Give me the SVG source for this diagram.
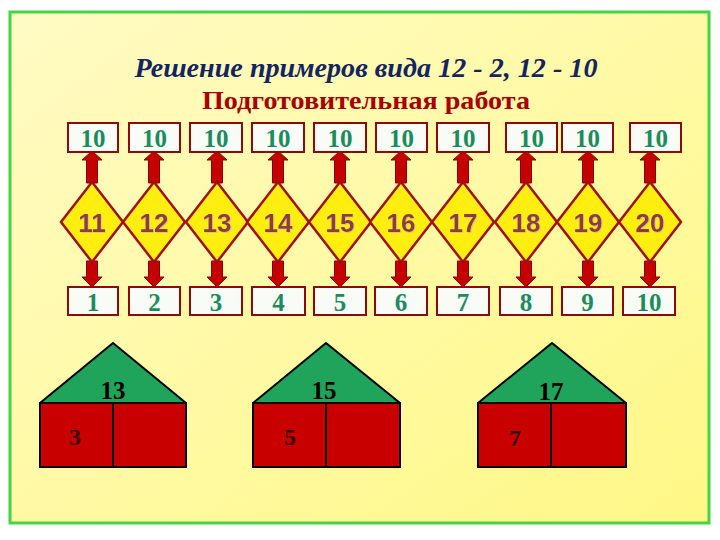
<svg xmlns="http://www.w3.org/2000/svg" width="720" height="540" viewBox="0 0 720 540">
<defs>
<linearGradient id="bg" x1="0" y1="0" x2="1" y2="1">
<stop offset="0" stop-color="#fffbc4"/>
<stop offset="1" stop-color="#fff886"/>
</linearGradient>
<filter id="sh" x="-20%" y="-20%" width="140%" height="140%">
<feDropShadow dx="1" dy="1" stdDeviation="0.6" flood-color="#e8c070" flood-opacity="0.9"/>
</filter>
<style>
.box{fill:#f8fbf6;stroke:#8e0a0a;stroke-width:2}
.bt{font-family:"Liberation Serif",serif;font-weight:bold;font-size:25px;fill:#1c8c5c;text-anchor:middle}
.dia{fill:#ffee10;stroke:#a01010;stroke-width:2.5}
.dt{font-family:"Liberation Sans",sans-serif;font-weight:bold;font-size:26px;fill:#8e3b4a;text-anchor:middle}
.arr{fill:#c40000;stroke:#8a0000;stroke-width:1}
.roof{fill:#20a45c;stroke:#000;stroke-width:2;stroke-linejoin:round}
.wall{fill:#c80000;stroke:#000;stroke-width:2}
.ht{font-family:"Liberation Serif",serif;font-weight:bold;font-size:25px;fill:#000;text-anchor:middle}
.hs{font-family:"Liberation Serif",serif;font-weight:bold;font-size:24px;fill:#3a0808;text-anchor:middle}
</style>
</defs>
<rect x="0" y="0" width="720" height="540" fill="#ffffff"/>
<rect x="10" y="12" width="699" height="511" fill="url(#bg)" stroke="#44d444" stroke-width="3"/>
<g id="title">
<text x="366" y="77" font-family="Liberation Serif,serif" font-weight="bold" font-style="italic" font-size="27" fill="#142460" text-anchor="middle" textLength="463" lengthAdjust="spacingAndGlyphs">Решение примеров вида 12 - 2, 12 - 10</text>
<text x="366" y="109" font-family="Liberation Serif,serif" font-weight="bold" font-size="26" fill="#a80000" text-anchor="middle" textLength="328" lengthAdjust="spacingAndGlyphs">Подготовительная работа</text>
</g>
<g id="connectors">
<polygon class="arr" points="86.5,183 86.5,160 82,160 92,151 102,160 97.5,160 97.5,183"/>
<polygon class="arr" points="148.5,183 148.5,160 144,160 154,151 164,160 159.5,160 159.5,183"/>
<polygon class="arr" points="211.5,183 211.5,160 207,160 217,151 227,160 222.5,160 222.5,183"/>
<polygon class="arr" points="272.5,183 272.5,160 268,160 278,151 288,160 283.5,160 283.5,183"/>
<polygon class="arr" points="334.5,183 334.5,160 330,160 340,151 350,160 345.5,160 345.5,183"/>
<polygon class="arr" points="395.5,183 395.5,160 391,160 401,151 411,160 406.5,160 406.5,183"/>
<polygon class="arr" points="457.5,183 457.5,160 453,160 463,151 473,160 468.5,160 468.5,183"/>
<polygon class="arr" points="520.5,183 520.5,160 516,160 526,151 536,160 531.5,160 531.5,183"/>
<polygon class="arr" points="582.5,183 582.5,160 578,160 588,151 598,160 593.5,160 593.5,183"/>
<polygon class="arr" points="644.5,183 644.5,160 640,160 650,151 660,160 655.5,160 655.5,183"/>
<polygon class="arr" points="86.5,261 86.5,277 82,277 92,287 102,277 97.5,277 97.5,261"/>
<polygon class="arr" points="148.5,261 148.5,277 144,277 154,287 164,277 159.5,277 159.5,261"/>
<polygon class="arr" points="211.5,261 211.5,277 207,277 217,287 227,277 222.5,277 222.5,261"/>
<polygon class="arr" points="272.5,261 272.5,277 268,277 278,287 288,277 283.5,277 283.5,261"/>
<polygon class="arr" points="334.5,261 334.5,277 330,277 340,287 350,277 345.5,277 345.5,261"/>
<polygon class="arr" points="395.5,261 395.5,277 391,277 401,287 411,277 406.5,277 406.5,261"/>
<polygon class="arr" points="457.5,261 457.5,277 453,277 463,287 473,277 468.5,277 468.5,261"/>
<polygon class="arr" points="520.5,261 520.5,277 516,277 526,287 536,277 531.5,277 531.5,261"/>
<polygon class="arr" points="582.5,261 582.5,277 578,277 588,287 598,277 593.5,277 593.5,261"/>
<polygon class="arr" points="644.5,261 644.5,277 640,277 650,287 660,277 655.5,277 655.5,261"/>
</g>
<g id="top-boxes">
<g id="t1"><rect class="box" x="68" y="123" width="50" height="29"/><text class="bt" x="93" y="147">10</text></g>
<g id="t2"><rect class="box" x="129" y="123" width="51" height="29"/><text class="bt" x="154.5" y="147">10</text></g>
<g id="t3"><rect class="box" x="190" y="123" width="52" height="29"/><text class="bt" x="216" y="147">10</text></g>
<g id="t4"><rect class="box" x="252" y="123" width="52" height="29"/><text class="bt" x="278" y="147">10</text></g>
<g id="t5"><rect class="box" x="314" y="123" width="52" height="29"/><text class="bt" x="340" y="147">10</text></g>
<g id="t6"><rect class="box" x="376" y="123" width="51" height="29"/><text class="bt" x="401.5" y="147">10</text></g>
<g id="t7"><rect class="box" x="437" y="123" width="52" height="29"/><text class="bt" x="463" y="147">10</text></g>
<g id="t8"><rect class="box" x="506" y="123" width="51" height="29"/><text class="bt" x="531.5" y="147">10</text></g>
<g id="t9"><rect class="box" x="562" y="123" width="51" height="29"/><text class="bt" x="587.5" y="147">10</text></g>
<g id="t10"><rect class="box" x="630" y="123" width="51" height="29"/><text class="bt" x="655.5" y="147">10</text></g>
</g>
<g id="diamonds">
<g id="d11"><polygon class="dia" points="92,182 123,222 92,262 61,222"/><text class="dt" x="92" y="232" filter="url(#sh)">11</text></g>
<g id="d12"><polygon class="dia" points="154,182 185,222 154,262 123,222"/><text class="dt" x="154" y="232" filter="url(#sh)">12</text></g>
<g id="d13"><polygon class="dia" points="217,182 248,222 217,262 186,222"/><text class="dt" x="217" y="232" filter="url(#sh)">13</text></g>
<g id="d14"><polygon class="dia" points="278,182 309,222 278,262 247,222"/><text class="dt" x="278" y="232" filter="url(#sh)">14</text></g>
<g id="d15"><polygon class="dia" points="340,182 371,222 340,262 309,222"/><text class="dt" x="340" y="232" filter="url(#sh)">15</text></g>
<g id="d16"><polygon class="dia" points="401,182 432,222 401,262 370,222"/><text class="dt" x="401" y="232" filter="url(#sh)">16</text></g>
<g id="d17"><polygon class="dia" points="463,182 494,222 463,262 432,222"/><text class="dt" x="463" y="232" filter="url(#sh)">17</text></g>
<g id="d18"><polygon class="dia" points="526,182 557,222 526,262 495,222"/><text class="dt" x="526" y="232" filter="url(#sh)">18</text></g>
<g id="d19"><polygon class="dia" points="588,182 619,222 588,262 557,222"/><text class="dt" x="588" y="232" filter="url(#sh)">19</text></g>
<g id="d20"><polygon class="dia" points="650,182 681,222 650,262 619,222"/><text class="dt" x="650" y="232" filter="url(#sh)">20</text></g>
</g>
<g id="bottom-boxes">
<g id="b1"><rect class="box" x="68" y="287" width="50" height="28"/><text class="bt" x="93" y="311">1</text></g>
<g id="b2"><rect class="box" x="129" y="287" width="51" height="28"/><text class="bt" x="154.5" y="311">2</text></g>
<g id="b3"><rect class="box" x="190" y="287" width="52" height="28"/><text class="bt" x="216" y="311">3</text></g>
<g id="b4"><rect class="box" x="252" y="287" width="53" height="28"/><text class="bt" x="278.5" y="311">4</text></g>
<g id="b5"><rect class="box" x="314" y="287" width="52" height="28"/><text class="bt" x="340" y="311">5</text></g>
<g id="b6"><rect class="box" x="375" y="287" width="52" height="28"/><text class="bt" x="401" y="311">6</text></g>
<g id="b7"><rect class="box" x="437" y="287" width="52" height="28"/><text class="bt" x="463" y="311">7</text></g>
<g id="b8"><rect class="box" x="500" y="287" width="52" height="28"/><text class="bt" x="526" y="311">8</text></g>
<g id="b9"><rect class="box" x="562" y="287" width="51" height="28"/><text class="bt" x="587.5" y="311">9</text></g>
<g id="b10"><rect class="box" x="623" y="287" width="52" height="28"/><text class="bt" x="649" y="311">10</text></g>
</g>
<g id="house1">
<polygon class="roof" points="40,403 113,343 186,403"/>
<rect class="wall" x="40" y="403" width="73" height="64"/>
<rect class="wall" x="113" y="403" width="73" height="64"/>
<text class="ht" x="113" y="399">13</text>
<text class="hs" x="75" y="445">3</text>
</g>
<g id="house2">
<polygon class="roof" points="253,403 326,343 400,403"/>
<rect class="wall" x="253" y="403" width="73" height="64"/>
<rect class="wall" x="326" y="403" width="74" height="64"/>
<text class="ht" x="324" y="399">15</text>
<text class="hs" x="290" y="445">5</text>
</g>
<g id="house3">
<polygon class="roof" points="478,403 552,343 626,403"/>
<rect class="wall" x="478" y="403" width="73" height="64"/>
<rect class="wall" x="551" y="403" width="75" height="64"/>
<text class="ht" x="551" y="400">17</text>
<text class="hs" x="515" y="446">7</text>
</g>
</svg>
